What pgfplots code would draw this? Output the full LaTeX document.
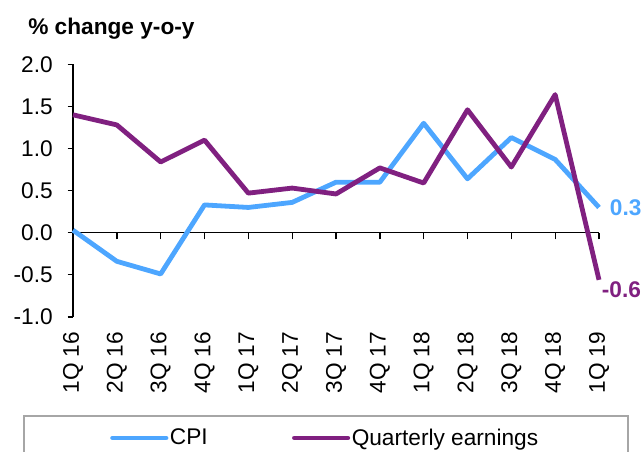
\documentclass[border=0pt]{standalone}
\usepackage{pgfplots}
\pgfplotsset{compat=1.18}
\usepackage{fontspec}
\setmainfont{Liberation Sans}
\definecolor{cpiblue}{RGB}{77,166,255}
\definecolor{earnpurple}{RGB}{128,32,128}
\begin{document}
\begin{tikzpicture}
\useasboundingbox (0pt,0pt) rectangle (482.25pt,-339pt);
\node[anchor=base west, font=\fontsize{17pt}{20pt}\selectfont\bfseries, inner sep=0pt] at (21pt,-26.25pt) {\% change y-o-y};
% zero line axis
\begin{axis}[
  at={(54.75pt,-237.68pt)}, anchor=south west,
  width=394.5pt, height=189.45pt, scale only axis,
  xmin=0, xmax=12, ymin=-1, ymax=2,
  axis x line*=middle, axis y line=none,
  xtick={0,...,12}, xticklabels={},
  ytick=\empty,
  tick align=outside, major tick length=5pt,
  x axis line style={line width=1pt},
  every tick/.style={black, line width=1pt},
]
\end{axis}
\begin{axis}[
  at={(54.75pt,-237.68pt)}, anchor=south west,
  width=394.5pt, height=189.45pt, scale only axis,
  xmin=0, xmax=12, ymin=-1, ymax=2,
  axis y line*=left, axis x line*=bottom,
  x axis line style={draw=none},
  y axis line style={line width=1pt},
  xtick={0,...,12},
  xticklabels={1Q 16,2Q 16,3Q 16,4Q 16,1Q 17,2Q 17,3Q 17,4Q 17,1Q 18,2Q 18,3Q 18,4Q 18,1Q 19},
  xtick style={draw=none},
  ytick={-1,-0.5,...,2},
  ytick style={black, line width=1pt},
  ytick align=outside, major tick length=4pt,
  tick label style={font=\fontsize{17pt}{20pt}\selectfont},
  xticklabel style={rotate=90, anchor=east, inner sep=0pt},
  yticklabel style={anchor=east, inner sep=0pt, /pgf/number format/.cd, fixed, fixed zerofill, precision=1},
  /pgf/number format/assume math mode=true,
  xticklabel shift=11pt,
  yticklabel shift=11pt,
  clip=false,
  legend columns=2,
  legend style={draw=none, fill=none, at={(0.0703,-0.479)}, anchor=west,
    font=\fontsize{17pt}{20pt}\selectfont, inner sep=0pt,
    nodes={inner sep=1.2pt},
    /tikz/column 2/.style={column sep=62pt}},
  legend image code/.code={\draw[#1, line width=3.6pt, line cap=round] (0pt,0pt) -- (40pt,0pt);},
]
\addplot[cpiblue, line width=3.6pt, line join=round] coordinates {
(0,0.03) (1,-0.34) (2,-0.49) (3,0.33) (4,0.30) (5,0.36) (6,0.60) (7,0.60) (8,1.30) (9,0.64) (10,1.13) (11,0.87) (12,0.30)};
\addlegendentry{CPI}
\addplot[earnpurple, line width=3.6pt, line join=round] coordinates {
(0,1.40) (1,1.28) (2,0.84) (3,1.10) (4,0.47) (5,0.53) (6,0.46) (7,0.77) (8,0.59) (9,1.46) (10,0.78) (11,1.64) (12,-0.56)};
\addlegendentry{Quarterly earnings}
\node[anchor=west, text=cpiblue, font=\fontsize{17pt}{20pt}\selectfont\bfseries, inner sep=0pt] at (axis cs:12,0.30) [xshift=8pt] {0.3};
\node[anchor=west, text=earnpurple, font=\fontsize{17pt}{20pt}\selectfont\bfseries, inner sep=0pt] at (axis cs:12,-0.56) [xshift=2pt, yshift=-7.5pt] {-0.6};
\end{axis}
\draw[gray!70, line width=0.8pt] (18pt,-312pt) rectangle (471pt,-360pt);
\end{tikzpicture}
\end{document}
